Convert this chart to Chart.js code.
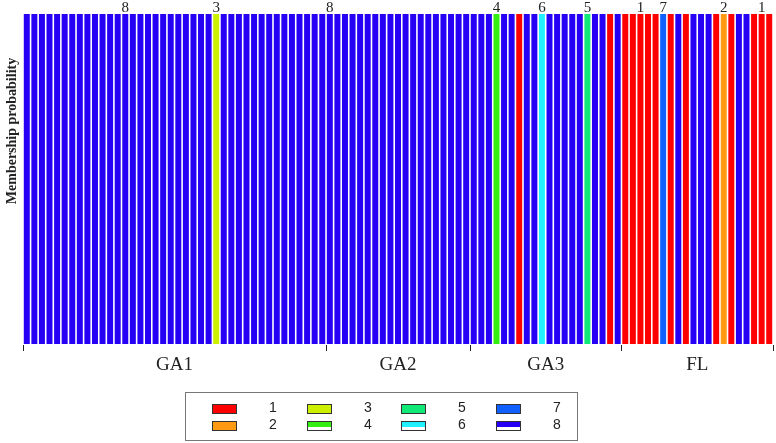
<!DOCTYPE html>
<html>
<head>
<meta charset="utf-8">
<script src="https://cdn.jsdelivr.net/npm/chart.js@4.4.1/dist/chart.umd.min.js"></script>
<style>
  html, body { margin: 0; padding: 0; background: #fff; }
</style>
</head>
<body>
<canvas id="graphe" width="776" height="443"></canvas>
<script>
// cluster (1..8) assigned to each individual, in plot order
const clusterOfBar = [
  // GA1 (40)
  8,8,8,8,8,8,8,8,8,8, 8,8,8,8,8,8,8,8,8,8, 8,8,8,8,8,3,8,8,8,8, 8,8,8,8,8,8,8,8,8,8,
  // GA2 (19)
  8,8,8,8,8,8,8,8,8,8, 8,8,8,8,8,8,8,8,8,
  // GA3 (20)
  8,8,8,4,8,8,1,8,8,6, 8,8,8,8,8,5,8,8,1,8,
  // FL (20)
  1,1,1,1,1,7,1,8,1,8, 8,8,1,2,1,8,8,1,1,1
];
const groupNames = ['GA1', 'GA2', 'GA3', 'FL'];
const groupSizes = [40, 19, 20, 20];
const clusterNames = ['1', '2', '3', '4', '5', '6', '7', '8'];
const clusterColors = ['#ff0000', '#ff9a12', '#ccf000', '#33ee10', '#10e878', '#20f0ff', '#1060ff', '#2600f4'];
// labels written above some bars
const topLabelBars = [13, 25, 40, 62, 68, 74, 81, 84, 92, 97];
const topLabelTexts = ['8', '3', '8', '4', '6', '5', '1', '7', '2', '1'];

// one dataset per cluster, stacked probabilities
const labels = clusterOfBar.map((c, i) => String(i + 1));
const datasets = clusterNames.map((name, k) => ({
  label: name,
  data: clusterOfBar.map(c => (c === k + 1 ? 1 : 0)),
  backgroundColor: clusterColors[k],
  borderWidth: 0,
  categoryPercentage: 1,
  barPercentage: 0.79
}));

// draws the group axis, the labels above bars, the y title and the boxed legend
const decorations = {
  id: 'decorations',
  afterDraw(chart) {
    const ctx = chart.ctx;
    const xs = chart.scales.x;
    const area = chart.chartArea;
    ctx.save();

    // ticks at group boundaries and group names
    ctx.strokeStyle = '#222';
    ctx.lineWidth = 1;
    ctx.fillStyle = '#222';
    ctx.font = '19px "Liberation Serif"';
    ctx.textAlign = 'center';
    ctx.textBaseline = 'alphabetic';
    let start = 0;
    const bounds = [0];
    groupSizes.forEach(n => { start += n; bounds.push(start); });
    bounds.forEach(b => {
      const x = Math.round(xs.getPixelForValue(b - 0.5)) + 0.5;
      ctx.beginPath();
      ctx.moveTo(x, area.bottom + 1);
      ctx.lineTo(x, area.bottom + 7);
      ctx.stroke();
    });
    groupNames.forEach((g, i) => {
      const x = (xs.getPixelForValue(bounds[i] - 0.5) + xs.getPixelForValue(bounds[i + 1] - 0.5)) / 2;
      ctx.fillText(g, x, area.bottom + 26);
    });

    // cluster numbers above bars
    ctx.font = '15px "Liberation Serif"';
    topLabelBars.forEach((b, i) => {
      ctx.fillText(topLabelTexts[i], xs.getPixelForValue(b), area.top - 2);
    });

    // y axis title
    ctx.save();
    ctx.translate(12, 131);
    ctx.rotate(-Math.PI / 2);
    ctx.font = 'bold 14px "Liberation Serif"';
    ctx.textBaseline = 'middle';
    ctx.fillText('Membership probability', 0, 0);
    ctx.restore();

    // legend box, 2 rows x 4 columns
    ctx.strokeStyle = '#777';
    ctx.strokeRect(185.5, 392.5, 392, 48);
    ctx.font = '14px "Liberation Sans"';
    ctx.textBaseline = 'middle';
    clusterNames.forEach((name, i) => {
      const col = Math.floor(i / 2);
      const row = i % 2;
      const sx = Math.round(212 + col * 94.7);
      const sy = row ? 421 : 404;
      ctx.fillStyle = clusterColors[i];
      ctx.fillRect(sx, sy, 24, 9);
      if (row === 1 && col > 0) { // lower band of these keys is washed out
        ctx.fillStyle = '#fff';
        ctx.fillRect(sx, sy + 6, 24, 3);
      }
      ctx.strokeStyle = '#333';
      ctx.strokeRect(sx + 0.5, sy + 0.5, 24, 9);
      ctx.fillStyle = '#222';
      ctx.fillText(name, sx + 61, sy + 4);
    });
    ctx.restore();
  }
};

new Chart(document.getElementById('graphe').getContext('2d'), {
  type: 'bar',
  data: { labels: labels, datasets: datasets },
  options: {
    responsive: false,
    animation: false,
    layout: { padding: { left: 23, right: 3, top: 14, bottom: 99 } },
    plugins: { legend: { display: false }, tooltip: { enabled: false } },
    scales: {
      x: { stacked: true, display: false },
      y: { stacked: true, display: false, min: 0, max: 1 }
    }
  },
  plugins: [decorations]
});
</script>
</body>
</html>
